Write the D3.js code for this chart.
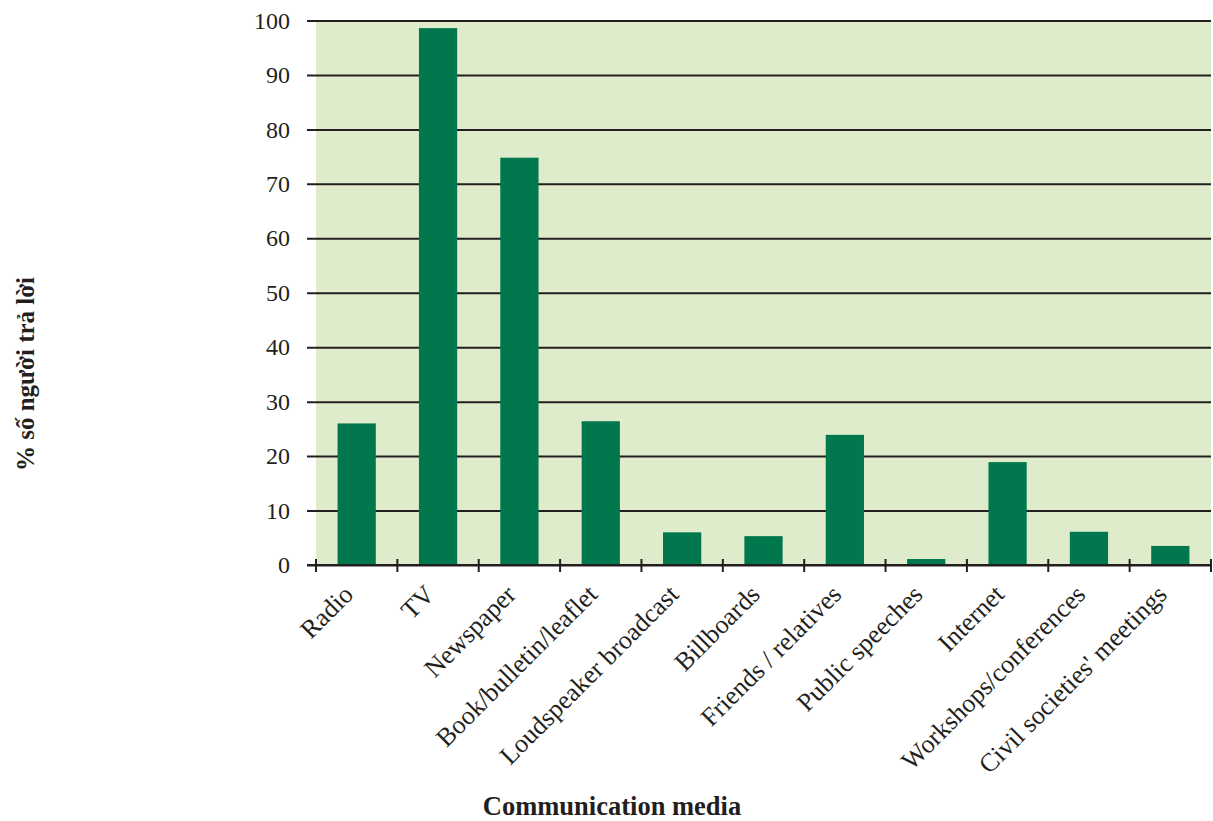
<!DOCTYPE html>
<html>
<head>
<meta charset="utf-8">
<script src="https://cdn.jsdelivr.net/npm/d3@7"></script>
<style>
  html, body { margin: 0; padding: 0; background: #fff; }
  svg { display: block; }
</style>
</head>
<body>
<svg id="chart" width="1213" height="821"></svg>
<script>
// Share of respondents by communication medium (%)
const categories = [
  "Radio", "TV", "Newspaper", "Book/bulletin/leaflet", "Loudspeaker broadcast",
  "Billboards", "Friends / relatives", "Public speeches", "Internet",
  "Workshops/conferences", "Civil societies' meetings"
];
const values = [26, 98.6, 74.8, 26.4, 6, 5.3, 23.9, 1.1, 18.9, 6.1, 3.5];
const yTicks = [0, 10, 20, 30, 40, 50, 60, 70, 80, 90, 100];
const xTitle = "Communication media";
const yTitle = "% số người trả lời";

const svg = d3.select("#chart");
const font = "'Liberation Serif', 'Times New Roman', serif";

const plotL = 316, plotR = 1211, plotT = 20.5, plotB = 565;

const x = d3.scaleBand().domain(categories).range([plotL, plotR]).paddingInner(0.53).paddingOuter(0.265);
const xTicks = d3.scaleBand().domain(categories).range([plotL, plotR]);
const y = d3.scaleLinear().domain([0, 100]).range([plotB, plotT]);

// plot background
svg.append("rect")
  .attr("x", plotL).attr("y", plotT)
  .attr("width", plotR - plotL).attr("height", plotB - plotT)
  .attr("fill", "#dfeccb");

// horizontal gridlines + y labels
const yAxis = svg.append("g").attr("transform", `translate(${plotL},0)`)
  .call(d3.axisLeft(y).tickValues(yTicks).tickSize(-(plotR - plotL)).tickSizeOuter(0).tickPadding(26));
yAxis.select(".domain").remove();
yAxis.selectAll(".tick line")
  .attr("x1", -9).attr("stroke", "#231f20").attr("stroke-width", 2);
yAxis.selectAll(".tick text")
  .attr("font-family", font).attr("font-size", 24).attr("fill", "#231f20");

// bars
svg.append("g").selectAll("rect")
  .data(categories)
  .join("rect")
  .attr("x", d => x(d))
  .attr("width", x.bandwidth())
  .attr("y", (d, i) => y(values[i]))
  .attr("height", (d, i) => y(0) - y(values[i]))
  .attr("fill", "#00774d");

// x axis: baseline and tick marks at band boundaries
const g = svg.append("g");
g.append("line")
  .attr("x1", plotL - 9).attr("x2", plotR)
  .attr("y1", y(0)).attr("y2", y(0))
  .attr("stroke", "#231f20").attr("stroke-width", 2);
const bounds = categories.map(d => xTicks(d)).concat([plotR]);
g.selectAll("line.tk")
  .data(bounds)
  .join("line")
  .attr("class", "tk")
  .attr("x1", d => d).attr("x2", d => d)
  .attr("y1", y(0) - 6).attr("y2", y(0) + 7)
  .attr("stroke", "#231f20").attr("stroke-width", 2);

// category labels, rotated
g.selectAll("text.cat")
  .data(categories)
  .join("text")
  .attr("class", "cat")
  .attr("transform", d => `translate(${xTicks(d) + xTicks.bandwidth() / 2 - 2},${y(0) + 31}) rotate(-45)`)
  .attr("text-anchor", "end")
  .attr("font-family", font)
  .attr("font-size", 26)
  .attr("fill", "#231f20")
  .text(d => d);

// axis titles
svg.append("text")
  .attr("x", 612).attr("y", 815)
  .attr("text-anchor", "middle")
  .attr("font-family", font).attr("font-size", 26.5).attr("font-weight", "bold")
  .attr("fill", "#231f20")
  .text(xTitle);

svg.append("text")
  .attr("transform", "translate(34,374) rotate(-90)")
  .attr("text-anchor", "middle")
  .attr("font-family", font).attr("font-size", 25).attr("font-weight", "bold")
  .attr("fill", "#231f20")
  .text(yTitle);
</script>
</body>
</html>
